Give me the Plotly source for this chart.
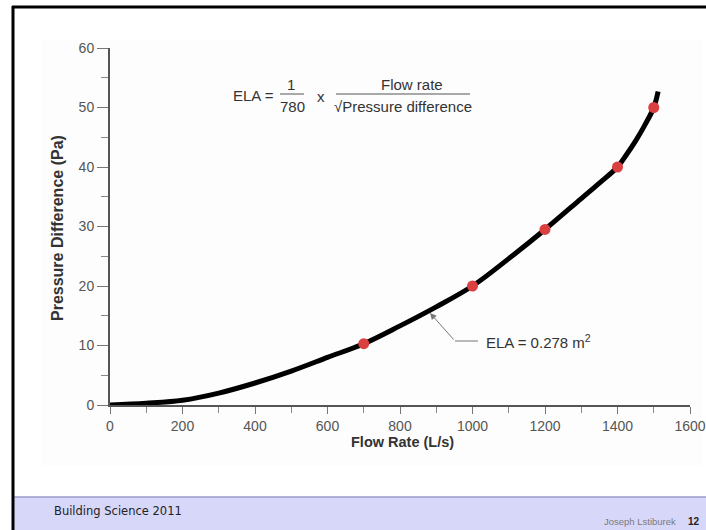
import plotly.graph_objects as go

# Curve
flow_curve = [0, 100, 200, 300, 400, 500, 600, 700, 800, 900, 1000, 1100, 1200, 1300, 1350, 1400, 1425, 1450, 1475, 1500, 1512]
pressure_curve = [0, 0.3, 0.8, 2.0, 3.7, 5.7, 8.0, 10.3, 13.3, 16.5, 20.0, 24.6, 29.5, 34.7, 37.3, 40.0, 42.1, 44.4, 47.0, 50.0, 52.7]

# Measured points (red dots)
flow_pts = [700, 1000, 1200, 1400, 1500]
pressure_pts = [10.3, 20.0, 29.5, 40.0, 50.0]

x_ticks = [0, 200, 400, 600, 800, 1000, 1200, 1400, 1600]
y_ticks = [0, 10, 20, 30, 40, 50, 60]

W, H = 706, 530
L, R, T, B = 110, 16, 48, 125
pw, ph = W - L - R, H - T - B


def px(xp):
    return (xp - L) / pw


def py(yp):
    return (H - B - yp) / ph


TXT = "#333333"
SANS = "Liberation Sans, Arial, Helvetica, sans-serif"
NARROW = "Liberation Sans Narrow, Arial Narrow, Liberation Sans, sans-serif"

fig = go.Figure()
fig.add_trace(go.Scatter(x=flow_curve, y=pressure_curve, mode="lines",
                         line=dict(color="black", width=5, shape="spline", smoothing=1.0),
                         hoverinfo="skip", showlegend=False))
fig.add_trace(go.Scatter(x=flow_pts, y=pressure_pts, mode="markers",
                         marker=dict(color="#d9403f", size=11),
                         cliponaxis=False, showlegend=False))

shapes = []
# faint picture background
shapes.append(dict(type="rect", xref="paper", yref="paper", x0=px(42), x1=px(702), y0=py(466), y1=py(40),
                   fillcolor="#fdfdfd", line=dict(width=0), layer="below"))
# footer band
shapes.append(dict(type="rect", xref="paper", yref="paper", x0=px(13), x1=px(720), y0=py(540), y1=py(497),
                   fillcolor="#d7d7fa", line=dict(width=0), layer="below"))
shapes.append(dict(type="line", xref="paper", yref="paper", x0=px(13), x1=px(720), y0=py(497), y1=py(497),
                   line=dict(color="#9b9bcc", width=1.5)))
# slide frame
shapes.append(dict(type="line", xref="paper", yref="paper", x0=px(12), x1=px(720), y0=py(7), y1=py(7),
                   line=dict(color="black", width=3)))
shapes.append(dict(type="line", xref="paper", yref="paper", x0=px(13), x1=px(13), y0=py(6), y1=py(540),
                   line=dict(color="black", width=3)))
# formula fraction bars
shapes.append(dict(type="line", xref="paper", yref="paper", x0=px(280), x1=px(304), y0=py(94), y1=py(94),
                   line=dict(color="#555555", width=1)))
shapes.append(dict(type="line", xref="paper", yref="paper", x0=px(336), x1=px(470), y0=py(94), y1=py(94),
                   line=dict(color="#555555", width=1)))
# ELA leader horizontal part
shapes.append(dict(type="line", xref="paper", yref="paper", x0=px(455), x1=px(478), y0=py(341), y1=py(341),
                   line=dict(color="#777777", width=1)))

ann = []


def text(x, y, s, size=15, anchor="center", color=TXT, family=SANS, **kw):
    ann.append(dict(xref="paper", yref="paper", x=px(x), y=py(y), text=s, showarrow=False,
                    xanchor=anchor, yanchor="middle", font=dict(family=family, size=size, color=color), **kw))


text(276, 96, "ELA =", anchor="right")
text(291, 85, "1")
text(292, 106, "780")
text(321, 97, "x")
text(412, 85, "Flow rate")
text(403, 106, "√Pressure difference")
text(484, 341, "ELA = 0.278 m<sup>2</sup>", anchor="left")
# axis titles
text(57, 228, "<b>Pressure Difference (Pa)</b>", size=16, family=NARROW, textangle=-90)
text(402, 442, "<b>Flow Rate (L/s)</b>", size=14.5, family=NARROW)
# footer
text(52, 511, "Building Science 2011", size=11.5, anchor="left", color="#222222",
     family="DejaVu Sans, Verdana, sans-serif")
text(678, 521, "Joseph Lstiburek", size=9.5, anchor="right", color="#7a7a7a", family=SANS)
text(686, 521, "<b>12</b>", size=10, anchor="left", color="#222222", family=SANS)

# leader arrow
ann.append(dict(xref="x domain", yref="y domain", axref="x domain", ayref="y domain",
                x=px(430), y=py(313), ax=px(455), ay=py(341), text="",
                showarrow=True, arrowhead=2, arrowsize=1.3, arrowwidth=1, arrowcolor="#777777"))

fig.update_layout(
    width=W, height=H,
    margin=dict(l=L, r=R, t=T, b=B, autoexpand=False),
    paper_bgcolor="white", plot_bgcolor="rgba(0,0,0,0)",
    shapes=shapes, annotations=ann, showlegend=False,
    xaxis=dict(range=[0, 1600], tickvals=x_ticks, showgrid=False, zeroline=False, automargin=False,
               showline=True, linecolor="#555555", linewidth=2,
               ticks="outside", ticklen=7, tickwidth=1, tickcolor="#777777",
               minor=dict(dtick=100, ticks="outside", ticklen=6, tickcolor="#888888", tickwidth=1),
               tickfont=dict(family=SANS, size=14, color="#555555")),
    yaxis=dict(range=[0, 60], tickvals=y_ticks, showgrid=False, zeroline=False, automargin=False,
               showline=True, linecolor="#555555", linewidth=2,
               ticks="outside", ticklen=11, tickwidth=1, tickcolor="#777777",
               minor=dict(dtick=5, ticks="outside", ticklen=7, tickcolor="#888888", tickwidth=1),
               tickfont=dict(family=SANS, size=14, color="#555555")),
)

fig.write_html("out.html", config={"displayModeBar": False},
               post_script="document.body.style.margin='0';document.body.style.overflow='hidden';")
